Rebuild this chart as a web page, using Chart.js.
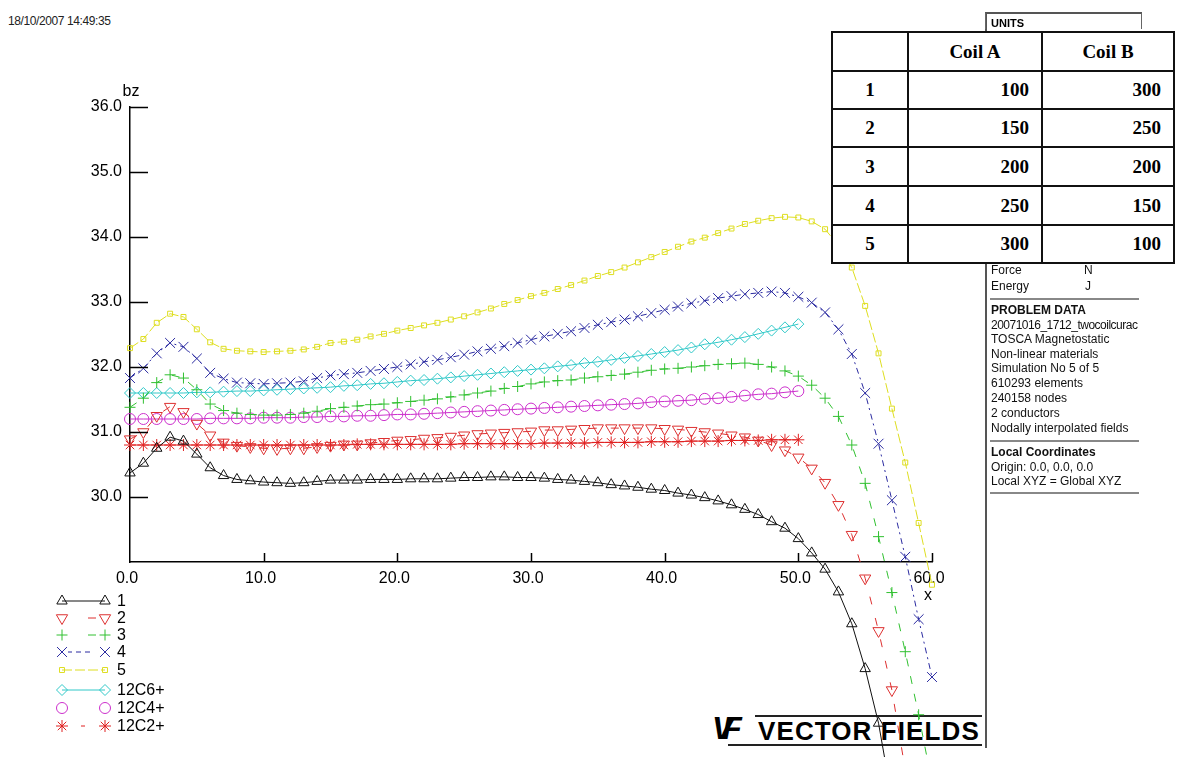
<!DOCTYPE html>
<html>
<head>
<meta charset="utf-8">
<script src="https://cdn.jsdelivr.net/npm/chart.js@4.4.1/dist/chart.umd.min.js"></script>
<style>
  html, body { margin:0; padding:0; background:#fff; }
  #wrap { position:relative; width:1182px; height:757px; overflow:hidden; font-family:"Liberation Sans", Arial, sans-serif; }
  canvas { position:absolute; left:0; top:0; z-index:2; }
  .abs { position:absolute; white-space:nowrap; }
  #stamp { left:8px; top:14px; font-size:12px; letter-spacing:-0.4px; color:#222; }
  #panel { left:985px; top:13px; width:156px; height:735px; border-left:2px solid #555; z-index:3; }
  #units { left:985px; top:12px; height:17px; border:1px solid #666; border-top:2px solid #555; border-bottom:none; font-size:11px; font-weight:bold; line-height:18px; padding-left:5px; box-sizing:border-box; width:157px; z-index:3; }
  .ptxt { position:absolute; left:991px; font-size:12px; color:#111; line-height:14px; white-space:nowrap; z-index:3; }
  .sep { position:absolute; left:990px; width:149px; height:0; border-top:2px solid #888; z-index:3; }
  #coil { position:absolute; left:831px; top:31px; border-collapse:collapse; background:#fff; font-family:"Liberation Serif", "Times New Roman", serif; font-weight:bold; font-size:19px; z-index:5; }
  #coil td { border:2px solid #111; height:35px; padding:0 12px; box-sizing:border-box; }
  #logo { left:712px; top:714px; width:272px; height:32px; z-index:1; }
</style>
</head>
<body>
<div id="wrap">
  <canvas id="c" width="1182" height="757"></canvas>
  <div id="stamp" class="abs">18/10/2007 14:49:35</div>
  <div id="panel" class="abs"></div>
  <div id="units" class="abs">UNITS</div>
  <div class="ptxt" style="top:263px;">Force</div><div class="ptxt" style="top:263px;left:1084px;">N</div>
  <div class="ptxt" style="top:279px;">Energy</div><div class="ptxt" style="top:279px;left:1085px;">J</div>
  <div class="sep" style="top:298px;"></div>
  <div class="ptxt" style="top:303px;font-weight:bold;">PROBLEM DATA</div>
  <div class="ptxt" style="top:318px;letter-spacing:-0.5px;">20071016_1712_twocoilcurac</div>
  <div class="ptxt" style="top:332px;">TOSCA Magnetostatic</div>
  <div class="ptxt" style="top:347px;">Non-linear materials</div>
  <div class="ptxt" style="top:361px;">Simulation No 5 of 5</div>
  <div class="ptxt" style="top:376px;">610293 elements</div>
  <div class="ptxt" style="top:391px;">240158 nodes</div>
  <div class="ptxt" style="top:406px;">2 conductors</div>
  <div class="ptxt" style="top:421px;">Nodally interpolated fields</div>
  <div class="sep" style="top:440px;"></div>
  <div class="ptxt" style="top:445px;font-weight:bold;">Local Coordinates</div>
  <div class="ptxt" style="top:460px;">Origin: 0.0, 0.0, 0.0</div>
  <div class="ptxt" style="top:474px;">Local XYZ = Global XYZ</div>
  <div class="sep" style="top:492px;"></div>
  <table id="coil">
    <tr><td style="width:76px;height:39px;"></td><td style="width:134px;text-align:center;">Coil A</td><td style="width:132px;text-align:center;">Coil B</td></tr>
    <tr><td style="text-align:center;height:38px;">1</td><td style="text-align:right;">100</td><td style="text-align:right;">300</td></tr>
    <tr><td style="text-align:center;height:38px;">2</td><td style="text-align:right;">150</td><td style="text-align:right;">250</td></tr>
    <tr><td style="text-align:center;height:39px;">3</td><td style="text-align:right;">200</td><td style="text-align:right;">200</td></tr>
    <tr><td style="text-align:center;height:39px;">4</td><td style="text-align:right;">250</td><td style="text-align:right;">150</td></tr>
    <tr><td style="text-align:center;height:38px;">5</td><td style="text-align:right;">300</td><td style="text-align:right;">100</td></tr>
  </table>
  <div id="logo" class="abs">
    <div class="abs" style="left:0;top:-4px;font:italic 900 32px 'Liberation Sans',Arial;letter-spacing:-11px;">VF</div>
    <div class="abs" style="left:43px;top:1px;width:227px;border-top:2px solid #222;"></div>
    <div class="abs" style="left:16px;top:30px;width:254px;border-top:2px solid #222;"></div>
    <div class="abs" style="left:46px;top:2px;font:bold 26px 'Liberation Sans',Arial;letter-spacing:1.1px;">VECTOR FIELDS</div>
  </div>
</div>
<script>
// ---- data (x positions every 1.0 along x) ----
const xPositions = [0,1,2,3,4,5,6,7,8,9,10,11,12,13,14,15,16,17,18,19,20,21,22,23,24,25,26,27,28,29,30,31,32,33,34,35,36,37,38,39,40,41,42,43,44,45,46,47,48,49,50,51,52,53,54,55,56,57,58,59,60];
const xTicks = [0,10,20,30,40,50,60];
const yTicks = [30,31,32,33,34,35,36];
const seriesNames = ['1','2','3','4','5','12C6+','12C4+','12C2+'];

const s1 = [30.37,30.52,30.75,30.92,30.86,30.66,30.45,30.33,30.27,30.25,30.23,30.22,30.21,30.22,30.24,30.26,30.26,30.26,30.27,30.27,30.27,30.28,30.28,30.28,30.29,30.30,30.30,30.31,30.31,30.30,30.30,30.29,30.27,30.26,30.24,30.22,30.19,30.17,30.15,30.12,30.10,30.06,30.03,29.99,29.94,29.88,29.81,29.73,29.62,29.52,29.36,29.14,28.89,28.54,28.05,27.36,26.52,25.35];
const s2 = [30.89,31.00,31.25,31.39,31.31,31.13,30.95,30.84,30.79,30.77,30.75,30.74,30.75,30.75,30.77,30.79,30.81,30.81,30.83,30.85,30.87,30.88,30.90,30.91,30.93,30.95,30.97,30.98,30.99,31.00,31.01,31.03,31.03,31.04,31.05,31.06,31.06,31.06,31.06,31.06,31.05,31.04,31.02,31.00,30.98,30.95,30.92,30.87,30.80,30.72,30.61,30.44,30.22,29.88,29.42,28.75,27.94,27.03,25.80];
const s3 = [31.38,31.52,31.76,31.88,31.83,31.65,31.43,31.33,31.29,31.27,31.26,31.26,31.27,31.29,31.32,31.36,31.38,31.40,31.42,31.43,31.45,31.47,31.49,31.51,31.54,31.57,31.60,31.63,31.67,31.70,31.74,31.77,31.79,31.80,31.83,31.85,31.87,31.89,31.92,31.95,31.97,31.98,32.00,32.02,32.04,32.05,32.06,32.04,32.00,31.94,31.86,31.72,31.52,31.24,30.80,30.21,29.39,28.53,27.62,26.65,25.60];
const s4 = [31.83,31.98,32.21,32.37,32.31,32.13,31.91,31.82,31.76,31.75,31.74,31.75,31.76,31.78,31.83,31.87,31.89,31.91,31.94,31.97,32.00,32.04,32.08,32.11,32.15,32.19,32.24,32.28,32.32,32.37,32.42,32.47,32.51,32.55,32.60,32.65,32.69,32.73,32.78,32.83,32.88,32.93,32.98,33.02,33.06,33.09,33.12,33.14,33.16,33.14,33.08,32.99,32.84,32.58,32.20,31.60,30.82,29.95,29.08,28.12,27.23];
const s5 = [32.29,32.43,32.68,32.82,32.77,32.58,32.38,32.28,32.25,32.24,32.23,32.24,32.25,32.27,32.31,32.37,32.39,32.42,32.47,32.51,32.56,32.60,32.64,32.68,32.73,32.78,32.84,32.90,32.97,33.03,33.09,33.14,33.20,33.26,33.33,33.40,33.46,33.53,33.61,33.69,33.77,33.85,33.93,33.99,34.06,34.13,34.20,34.25,34.29,34.31,34.30,34.24,34.12,33.87,33.53,32.94,32.21,31.36,30.53,29.60,28.65];
const c6 = [31.60,31.60,31.60,31.60,31.60,31.61,31.61,31.62,31.63,31.63,31.64,31.65,31.66,31.67,31.68,31.69,31.71,31.72,31.74,31.75,31.77,31.79,31.80,31.82,31.84,31.86,31.88,31.90,31.92,31.94,31.96,31.98,32.01,32.03,32.06,32.08,32.11,32.14,32.17,32.20,32.23,32.26,32.30,32.35,32.38,32.42,32.46,32.51,32.56,32.61,32.66];
const c4 = [31.20,31.20,31.20,31.20,31.20,31.20,31.21,31.21,31.21,31.21,31.22,31.22,31.22,31.23,31.23,31.24,31.24,31.25,31.25,31.26,31.27,31.27,31.28,31.29,31.30,31.31,31.32,31.33,31.34,31.35,31.36,31.37,31.38,31.39,31.40,31.41,31.42,31.43,31.44,31.46,31.47,31.48,31.49,31.51,31.52,31.54,31.56,31.58,31.59,31.61,31.63];
const c2 = [30.80,30.80,30.80,30.80,30.80,30.80,30.80,30.80,30.80,30.80,30.80,30.80,30.80,30.80,30.80,30.80,30.80,30.81,30.81,30.81,30.81,30.81,30.81,30.81,30.81,30.82,30.82,30.82,30.82,30.82,30.82,30.83,30.83,30.83,30.83,30.84,30.84,30.84,30.84,30.85,30.85,30.85,30.86,30.86,30.86,30.87,30.87,30.87,30.88,30.88,30.88];

const pts = arr => arr.map((v, i) => ({x: xPositions[i], y: v}));

const styles = [
  {color:'#111111', ps:'triangle', r:6, rot:0,   dash:[],        lg:[]},
  {color:'#dd3030', ps:'triangle', r:6.5, rot:180, dash:[8,14],  lg:[0,26,8,20]},
  {color:'#30c030', ps:'cross',    r:5.5, rot:0, dash:[8,10],    lg:[0,26,8,20]},
  {color:'#2a2aa0', ps:'crossRot', r:7, rot:0,   dash:[6,4,2,4], lg:[0,6,4,4,5,4,5,30]},
  {color:'#dede20', ps:'rect',     r:3.5, rot:0, dash:[10,3],    lg:[10,3]},
  {color:'#30c8c8', ps:'rectRot',  r:5.5, rot:0, dash:[],        lg:[]},
  {color:'#cc30cc', ps:'circle',   r:5.5, rot:0, dash:[],        lg:[0,60]},
  {color:'#e02020', ps:'star',     r:6, rot:0,   dash:[],        lg:[0,19,4,40]}
];
const allData = [s1,s2,s3,s4,s5,c6,c4,c2];

const datasets = allData.map((arr, i) => ({
  label: seriesNames[i],
  data: pts(arr),
  borderColor: styles[i].color,
  borderWidth: 1,
  borderDash: styles[i].dash,
  pointStyle: styles[i].ps,
  pointRadius: styles[i].r,
  pointRotation: styles[i].rot,
  pointBorderColor: styles[i].color,
  pointBackgroundColor: 'rgba(0,0,0,0)',
  pointBorderWidth: 1,
  tension: 0,
  clip: false
}));

// let markers below the x axis be drawn too (they continue past the axis in the reference)
const unclip = {
  id: 'unclip',
  beforeDatasetsDraw(chart) {
    chart._savedArea = chart.chartArea;
    const a = chart.chartArea;
    chart.chartArea = {left: a.left, top: a.top, right: a.right + 100, bottom: chart.height + 200, width: a.width + 100, height: chart.height + 200 - a.top};
  },
  afterDatasetsDraw(chart) {
    if (chart._savedArea) chart.chartArea = chart._savedArea;
  }
};

const decor = {
  id: 'decor',
  afterDraw(chart) {
    const ctx = chart.ctx, xs = chart.scales.x, ys = chart.scales.y;
    ctx.save();
    ctx.strokeStyle = '#000'; ctx.lineWidth = 1.5;
    const x0 = xs.getPixelForValue(0), y0 = ys.getPixelForValue(29);
    ctx.beginPath();
    yTicks.forEach(v => { const y = Math.round(ys.getPixelForValue(v)) + 0.5; ctx.moveTo(x0, y); ctx.lineTo(x0 + 18, y); });
    xTicks.forEach(v => { if (v === 0) return; const x = Math.round(xs.getPixelForValue(v)) + 0.5; ctx.moveTo(x, y0); ctx.lineTo(x, y0 - 9); });
    ctx.stroke();
    ctx.fillStyle = '#000';
    ctx.font = '16px "Liberation Sans", Arial';
    ctx.textAlign = 'center'; ctx.textBaseline = 'middle';
    ctx.fillText('bz', x0 + 1, 92);
    ctx.fillText('x', xs.getPixelForValue(60) - 4, 596);
    // legend
    const lx1 = 62, lx2 = 105, rows = [601, 618, 635, 652, 670, 690, 708, 726];
    seriesNames.forEach((name, i) => {
      const st = styles[i], y = rows[i];
      ctx.save();
      ctx.strokeStyle = st.color; ctx.lineWidth = 1; ctx.setLineDash(st.lg);
      ctx.beginPath(); ctx.moveTo(lx1, y); ctx.lineTo(lx2, y); ctx.stroke();
      ctx.restore();
      const opts = {pointStyle: st.ps, radius: st.r, rotation: st.rot, borderWidth: 1};
      ctx.save();
      ctx.strokeStyle = st.color; ctx.fillStyle = 'rgba(0,0,0,0)'; ctx.lineWidth = 1; ctx.setLineDash([]);
      Chart.helpers.drawPoint(ctx, opts, lx1, y);
      Chart.helpers.drawPoint(ctx, opts, lx2, y);
      ctx.restore();
      ctx.fillStyle = '#000';
      ctx.font = '16px "Liberation Sans", Arial';
      ctx.textAlign = 'left'; ctx.textBaseline = 'middle';
      ctx.fillText(name, 117, y + 1);
    });
    ctx.restore();
  }
};

new Chart(document.getElementById('c'), {
  type: 'line',
  data: { datasets },
  plugins: [unclip, decor],
  options: {
    responsive: false,
    animation: false,
    devicePixelRatio: 1,
    layout: { padding: { top: 107, right: 250, left: 0, bottom: 0 } },
    plugins: { legend: { display: false }, tooltip: { enabled: false } },
    scales: {
      x: {
        type: 'linear', min: 0, max: 60,
        afterFit: s => { s.height = 195; },
        afterBuildTicks: s => { s.ticks = xTicks.map(v => ({value: v})); },
        grid: { display: false, drawTicks: false },
        border: { display: true, color: '#000', width: 1.5 },
        ticks: { padding: 7, labelOffset: -3, color: '#000', font: { family: '"Liberation Sans", Arial', size: 16 }, callback: v => v.toFixed(1), maxRotation: 0 }
      },
      y: {
        type: 'linear', min: 29, max: 36,
        afterFit: s => { s.width = 130; },
        afterBuildTicks: s => { s.ticks = yTicks.map(v => ({value: v})); },
        grid: { display: false, drawTicks: false },
        border: { display: true, color: '#000', width: 1.5 },
        ticks: { padding: 8, color: '#000', font: { family: '"Liberation Sans", Arial', size: 16 }, callback: v => v.toFixed(1) }
      }
    }
  }
});
</script>
</body>
</html>
